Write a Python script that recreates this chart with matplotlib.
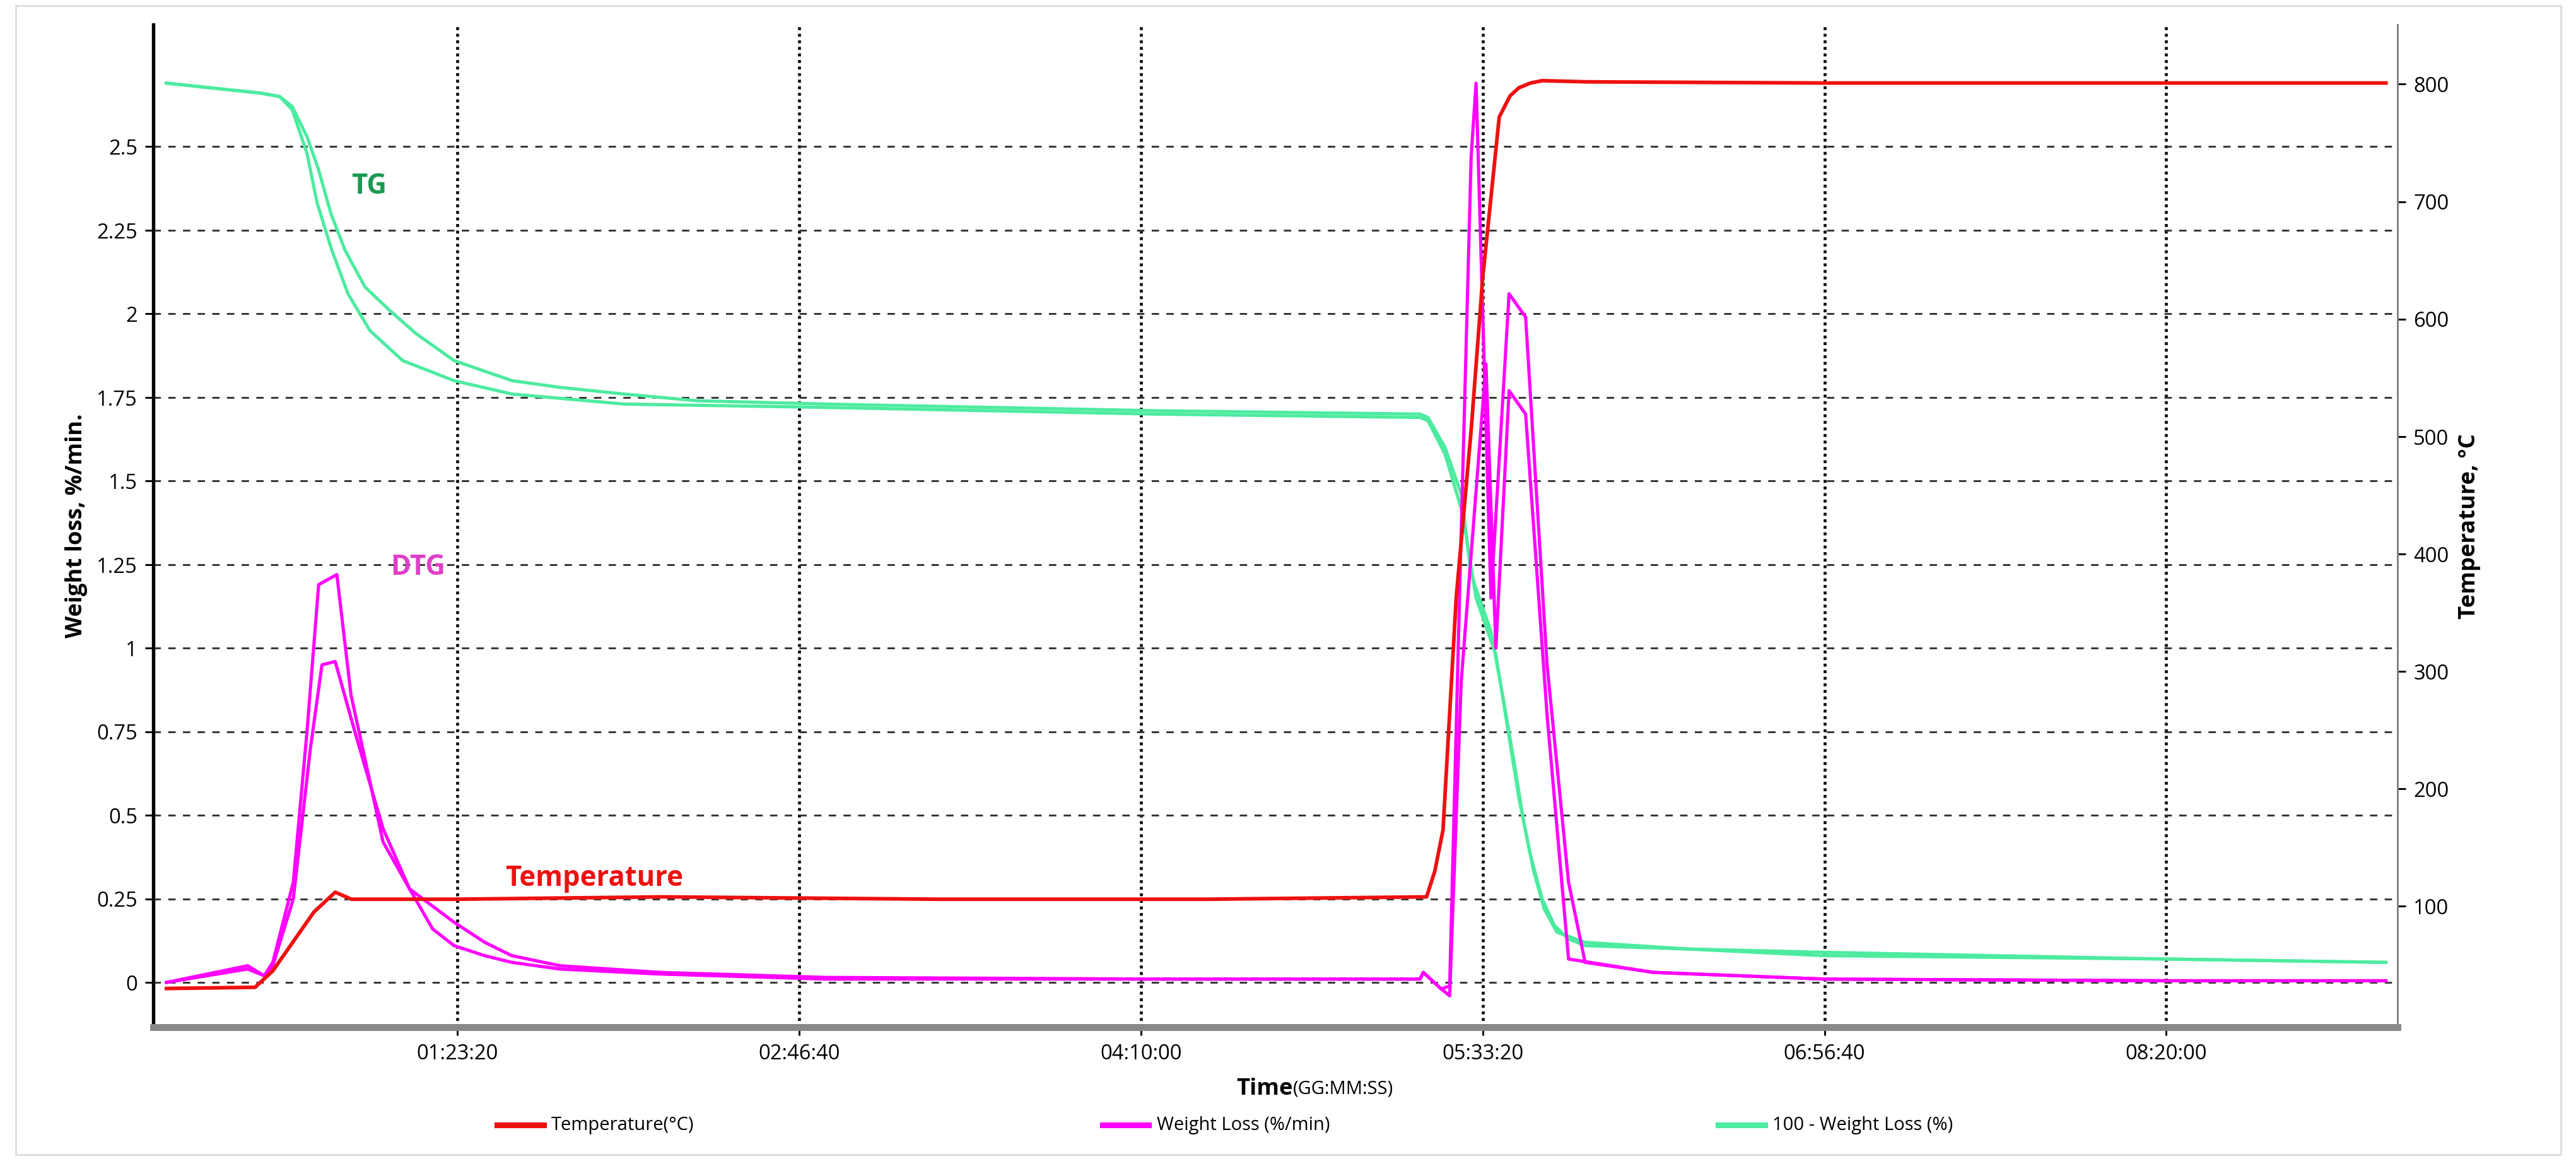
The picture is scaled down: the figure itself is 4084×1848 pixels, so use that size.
import matplotlib
matplotlib.use('Agg')
import matplotlib.pyplot as plt
from matplotlib.lines import Line2D

# time in seconds
temp_t = [744, 2041, 2300, 2600, 2900, 3213, 3450, 5000, 8000, 12000, 16000, 19179, 19300, 19420, 19613, 19831, 20000, 20242, 20400, 20531, 20700, 20870, 21522, 25000, 30000, 33214]
temp_v = [30, 31, 45, 70, 95, 112, 106, 106, 108, 106, 106, 108, 130, 165, 363, 505, 635, 772, 790, 797, 801, 803, 802, 801, 801, 801]

dtg1_t = [744, 1932, 2174, 2300, 2600, 2800, 2971, 3237, 3444, 3700, 3913, 4300, 4952, 5400, 5797, 6500, 7971, 10387, 15218, 19083, 19131, 19396, 19517, 19686, 19831, 19903, 20121, 20386, 20628, 20942, 21256, 21498, 22500, 25000, 30000, 33214]
dtg1_v = [0.0, 0.05, 0.02, 0.06, 0.30, 0.75, 1.19, 1.22, 0.86, 0.62, 0.42, 0.28, 0.18, 0.12, 0.08, 0.05, 0.03, 0.015, 0.01, 0.01, 0.03, -0.02, -0.01, 1.35, 2.47, 2.69, 1.15, 2.06, 1.99, 0.95, 0.30, 0.06, 0.03, 0.01, 0.005, 0.005]
dtg2_t = [744, 1932, 2174, 2300, 2600, 2850, 3019, 3213, 3500, 3913, 4300, 4638, 4952, 5400, 5797, 6500, 7971, 10387, 15218, 19083, 19131, 19396, 19517, 19686, 20048, 20193, 20386, 20628, 20942, 21256, 22500, 25000, 30000, 33214]
dtg2_v = [0.0, 0.04, 0.02, 0.05, 0.25, 0.70, 0.95, 0.96, 0.75, 0.46, 0.28, 0.16, 0.11, 0.08, 0.06, 0.04, 0.025, 0.01, 0.01, 0.01, 0.03, -0.02, -0.04, 0.9, 1.85, 1.0, 1.77, 1.70, 0.80, 0.07, 0.03, 0.01, 0.005, 0.005]

tg1_t = [744, 2126, 2400, 2585, 2800, 2971, 3150, 3357, 3650, 4010, 4400, 4952, 5800, 6500, 7440, 8500, 10387, 15218, 19083, 19200, 19450, 19686, 19831, 20121, 20300, 20459, 20600, 20749, 20900, 21087, 21498, 23000, 25000, 30000, 33214]
tg1_v = [2.69, 2.66, 2.65, 2.62, 2.53, 2.43, 2.30, 2.19, 2.08, 2.01, 1.94, 1.86, 1.80, 1.78, 1.76, 1.74, 1.73, 1.71, 1.70, 1.69, 1.60, 1.46, 1.22, 1.05, 0.85, 0.66, 0.48, 0.33, 0.22, 0.15, 0.12, 0.10, 0.09, 0.07, 0.06]
tg2_t = [744, 2126, 2400, 2585, 2800, 2950, 3164, 3400, 3720, 4200, 4952, 5800, 7440, 10387, 15218, 19083, 19200, 19450, 19710, 19903, 20193, 20350, 20531, 20700, 20870, 21050, 21256, 21498, 23000, 25000, 30000, 33214]
tg2_v = [2.69, 2.66, 2.65, 2.61, 2.48, 2.33, 2.19, 2.06, 1.95, 1.86, 1.80, 1.76, 1.73, 1.72, 1.70, 1.69, 1.68, 1.58, 1.40, 1.15, 0.98, 0.78, 0.55, 0.38, 0.25, 0.17, 0.13, 0.11, 0.10, 0.08, 0.07, 0.06]

x_ticks = [5000, 10000, 15000, 20000, 25000, 30000]
x_labels = ['01:23:20', '02:46:40', '04:10:00', '05:33:20', '06:56:40', '08:20:00']
left_ticks = [0, 0.25, 0.5, 0.75, 1, 1.25, 1.5, 1.75, 2, 2.25, 2.5]
left_labels = ['0', '0.25', '0.5', '0.75', '1', '1.25', '1.5', '1.75', '2', '2.25', '2.5']
right_ticks = [100, 200, 300, 400, 500, 600, 700, 800]

RED = '#ee1111'
MAG = '#ff00ff'
GRN = '#4deba0'

plt.rcParams['font.family'] = ['Open Sans', 'DejaVu Sans']
fig = plt.figure(figsize=(15.6, 7.06), dpi=261.8)
ax = fig.add_axes([0.0596, 0.119, 0.871, 0.860])
ax2 = ax.twinx()

ax.plot(tg1_t, tg1_v, color=GRN, lw=1.4, zorder=3)
ax.plot(tg2_t, tg2_v, color=GRN, lw=1.4, zorder=3)
ax.plot(dtg1_t, dtg1_v, color=MAG, lw=1.4, zorder=4)
ax.plot(dtg2_t, dtg2_v, color=MAG, lw=1.4, zorder=4)
ax2.plot(temp_t, temp_v, color=RED, lw=1.6)

ax.set_xlim(555, 33380)
ax.set_ylim(-0.134, 2.866)
ax2.set_ylim(-3, 851)

ax.set_xticks(x_ticks)
ax.set_xticklabels(x_labels, fontsize=9)
ax.set_yticks(left_ticks)
ax.set_yticklabels(left_labels, fontsize=9)
ax2.set_yticks(right_ticks)
ax2.tick_params(axis='y', labelsize=9)

ax.grid(axis='y', color='#333333', linestyle=(0, (4, 4)), lw=0.8)
ax.grid(axis='x', color='#111111', linestyle=(0, (1, 1.2)), lw=1.3)
ax.set_axisbelow(True)

for a in (ax, ax2):
    a.spines['top'].set_visible(False)
ax.spines['left'].set_linewidth(1.5)
ax.spines['bottom'].set_color('#888888')
ax.spines['bottom'].set_linewidth(3)
ax2.spines['bottom'].set_visible(False)
ax2.spines['left'].set_visible(False)
ax2.spines['right'].set_color('#888888')

ax.set_ylabel('Weight loss, %/min.', fontsize=10, fontweight='bold')
ax2.set_ylabel('Temperature, °C', fontsize=10, fontweight='bold')

fig.text(0.502, 0.066, 'Time', fontsize=10, fontweight='bold', ha='right', va='center')
fig.text(0.502, 0.066, '(GG:MM:SS)', fontsize=8, ha='left', va='center')

ax.text(3450, 2.36, 'TG', color='#1a9a50', fontsize=12, fontweight='bold')
ax.text(4020, 1.22, 'DTG', color='#e040c8', fontsize=12, fontweight='bold')
ax.text(5700, 0.29, 'Temperature', color=RED, fontsize=12, fontweight='bold')

# legend row under the axis
for x0, col, lab in [(0.193, RED, 'Temperature(°C)'), (0.428, MAG, 'Weight Loss (%/min)'), (0.667, GRN, '100 - Weight Loss (%)')]:
    fig.add_artist(Line2D([x0, x0 + 0.018], [0.035, 0.035], color=col, lw=2.5, transform=fig.transFigure))
    fig.text(x0 + 0.021, 0.035, lab, fontsize=8, va='center')

fig.add_artist(plt.Rectangle((0.006, 0.01), 0.988, 0.985, fill=False, edgecolor='#dddddd', lw=0.8, transform=fig.transFigure))

fig.savefig('out.png', dpi=261.8)
